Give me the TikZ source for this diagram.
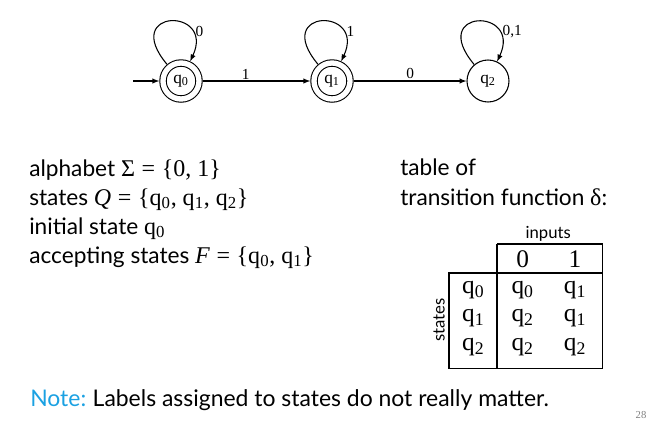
\documentclass[tikz,border=0pt]{standalone}
\usepackage{fontspec}
\setmainfont{Lato}
\newfontfamily\tms{Liberation Serif}
\usepackage{tikz}
\usetikzlibrary{matrix, arrows, shapes, positioning}
\definecolor{noteblue}{RGB}{27,161,226}
\newcommand{\qs}[1]{q\textsubscript{#1}}
\newcommand{\mth}[1]{{\tms\fontsize{18}{20}\selectfont #1}}
\tikzset{
	state/.style={circle, draw, line width=0.8pt, minimum size=31.5pt, inner sep=0pt, font=\tms\fontsize{13}{13}\selectfont},
	accept/.style={state, minimum size=27pt, double, double distance=4pt, outer sep=2.8pt},
	trans/.style={->, >=latex, line width=0.8pt},
	selfloop/.style={out=130, in=65, out distance=55pt, in distance=45pt},
	lbl/.style={font=\tms\fontsize{11.5}{12}\selectfont, inner sep=1pt},
	txt/.style={anchor=base west, inner sep=0pt, font=\fontsize{17}{20}\selectfont},
	grid/.style={line width=0.8pt},
	table/.style={
		matrix of nodes,
		inner sep=0pt,
		row sep=0pt,
		column sep=0pt,
		nodes={rectangle, align=center, font=\tms\fontsize{19}{19}\selectfont},
		text height=15pt,
		text depth=6.4pt,
		nodes in empty cells
	},
	row 1/.style={nodes={text height=17.25pt, text depth=4.5pt}},
	row 4/.style={nodes={text depth=13.4pt}},
	column 1/.style={nodes={text width=36pt}},
	column 2/.style={nodes={text width=38pt}},
	column 3/.style={nodes={text width=40.5pt}},
}
\begin{document}
\begin{tikzpicture}[x=0.75pt, y=-0.75pt]
	\useasboundingbox (0,0) rectangle (655,422);

	% the automaton
	\node (q0) [accept] at (181,81) {\qs0};
	\node (q1) [accept] at (332,81) {\qs1};
	\node (q2) [state] at (488,81) {\qs2};
	\coordinate[left=19.5pt of q0] (start);

	\draw[trans] (start) -- (q0);
	\draw[trans] (q0) -- node[lbl, above, pos=0.4] {1} (q1);
	\draw[trans] (q1) -- node[lbl, above] {0} (q2);
	\draw[trans] (q0) to[selfloop] node[lbl, pos=0.76, right=2pt] {0} (q0);
	\draw[trans] (q1) to[selfloop] node[lbl, pos=0.76, right=2pt] {1} (q1);
	\draw[trans] (q2) to[selfloop] node[lbl, pos=0.76, right=2pt] {0,1} (q2);

	% the definition
	\node (alph) [txt] at (29,176) {alphabet \mth{Σ\;=\;\{0, 1\}}};
	\node (stat) [txt] at (29,205) {states \mth{\itshape Q}\mth{\;=\;\{\qs0, \qs1, \qs2\}}};
	\node (init) [txt] at (29,234) {initial state \mth{\qs0}};
	\node (acc) [txt] at (29,263) {accepting states \mth{\itshape F}\mth{\;=\;\{\qs0, \qs1\}}};

	\node (tbl1) [txt] at (400,175) {table of};
	\node (tbl2) [txt] at (400,205) {transition function \mth{δ}:};

	% the matrix entries
	\matrix (tab) [table, anchor=north west] at (449,244)
	{
		& 0 & 1 \\
		\qs0 & \qs0 & \qs1 \\
		\qs1 & \qs2 & \qs1 \\
		\qs2 & \qs2 & \qs2 \\
	};

	% the lines
	\draw[grid] (tab-1-2.north west) -- (tab-1-3.north east) -- (tab-4-3.south east) -- (tab-4-1.south west) -- (tab-2-1.north west) -- (tab-2-3.north east);
	\draw[grid] (tab-1-2.north west) -- (tab-4-2.south west);

	\node (inputs) [inner sep=0pt, font=\fontsize{12.5}{13}\selectfont, above=2pt of tab-1-2.north east] {inputs};
	\node (states) [inner sep=0pt, font=\fontsize{12.5}{13}\selectfont, rotate=90, anchor=south] at ([xshift=-3pt, yshift=-3pt]tab-3-1.west) {states};

	\node (note) [txt, font=\fontsize{17.2}{20}\selectfont] at (30,406) {\textcolor{noteblue}{Note:}\hspace{-1pt} Labels assigned to states do not really matter.};
	\node (page) [font=\tms\fontsize{8}{8}\selectfont, text=gray] at (641,415) {28};
\end{tikzpicture}
\end{document}
